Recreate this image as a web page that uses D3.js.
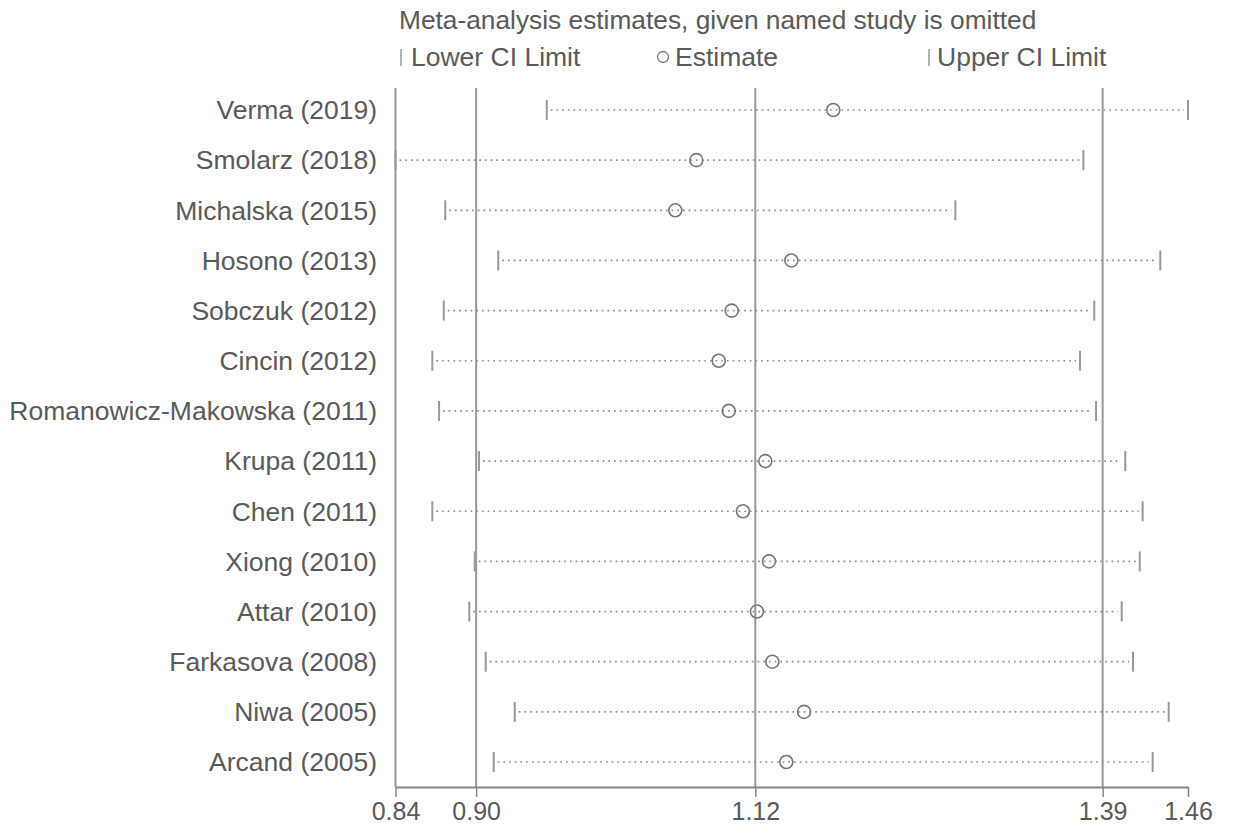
<!DOCTYPE html>
<html>
<head>
<meta charset="utf-8">
<script src="https://cdn.jsdelivr.net/npm/d3@7"></script>
<style>
  body { margin: 0; background: #fff; }
  svg text { font-family: "Liberation Sans", Arial, sans-serif; fill: #5a5a5a; }
</style>
</head>
<body>
<div id="chart"></div>
<script>
// studies, top to bottom
var studies = ["Verma (2019)", "Smolarz (2018)", "Michalska (2015)", "Hosono (2013)",
  "Sobczuk (2012)", "Cincin (2012)", "Romanowicz-Makowska (2011)", "Krupa (2011)",
  "Chen (2011)", "Xiong (2010)", "Attar (2010)", "Farkasova (2008)", "Niwa (2005)", "Arcand (2005)"];

// pooled estimate with the study left out, and its CI
var lowerCI  = [0.9556, 0.8365, 0.8757, 0.9174, 0.8745, 0.8655, 0.8708, 0.9022, 0.8655, 0.8989, 0.8946, 0.9075, 0.9304, 0.9138];
var estimate = [1.1812, 1.0734, 1.0568, 1.1482, 1.1012, 1.0910, 1.0989, 1.1277, 1.1101, 1.1306, 1.1211, 1.1332, 1.1582, 1.1442];
var upperCI  = [1.4605, 1.3781, 1.2773, 1.4387, 1.3867, 1.3755, 1.3881, 1.4111, 1.4248, 1.4225, 1.4083, 1.4172, 1.4453, 1.4327];

// axis ticks: min lower, overall lower, overall estimate, overall upper, max upper
var tickVals = [0.8365, 0.9, 1.1198, 1.3933, 1.4605];
var refLines = [0.8365, 0.9, 1.1198, 1.3933];

var svgWidth = 1237, svgHeight = 829;
var plotLeft = 395.5, plotRight = 1188, axisY = 787;

var svg = d3.select("#chart").append("svg")
  .attr("width", svgWidth)
  .attr("height", svgHeight);

var x = d3.scaleLinear()
  .domain([tickVals[0], tickVals[tickVals.length - 1]])
  .range([plotLeft, plotRight]);

var y = d3.scalePoint()
  .domain(studies)
  .range([110, 762]);

var rows = studies.map(function(s, i) {
  return {name: s, lo: lowerCI[i], est: estimate[i], hi: upperCI[i]};
});

// title + legend
svg.append("text").attr("x", 399).attr("y", 29)
  .style("font-size", "26.3px")
  .text("Meta-analysis estimates, given named study is omitted");

var legY = 66;
svg.append("line").attr("x1", 401).attr("x2", 401).attr("y1", legY - 17).attr("y2", legY)
  .attr("stroke", "#888").attr("stroke-width", 1.3);
svg.append("text").attr("x", 411).attr("y", legY).style("font-size", "26.5px").text("Lower CI Limit");
svg.append("circle").attr("cx", 663).attr("cy", legY - 9).attr("r", 5.5)
  .attr("fill", "none").attr("stroke", "#777").attr("stroke-width", 1.3);
svg.append("text").attr("x", 675).attr("y", legY).style("font-size", "26.5px").text("Estimate");
svg.append("line").attr("x1", 929).attr("x2", 929).attr("y1", legY - 17).attr("y2", legY)
  .attr("stroke", "#888").attr("stroke-width", 1.3);
svg.append("text").attr("x", 937).attr("y", legY).style("font-size", "26.5px").text("Upper CI Limit");

// reference lines
svg.selectAll(".ref").data(refLines).enter().append("line")
  .attr("class", "ref")
  .attr("x1", d => x(d)).attr("x2", d => x(d))
  .attr("y1", 88).attr("y2", axisY)
  .attr("stroke", "#999").attr("stroke-width", 2);

// dotted CI lines
svg.selectAll(".ci").data(rows).enter().append("line")
  .attr("class", "ci")
  .attr("x1", d => x(d.lo) + 4).attr("x2", d => x(d.hi) - 4)
  .attr("y1", d => y(d.name)).attr("y2", d => y(d.name))
  .attr("stroke", "#8f8f8f").attr("stroke-width", 1.7)
  .attr("stroke-dasharray", "1.7,4");

// caps
svg.selectAll(".lo").data(rows).enter().append("line")
  .attr("class", "lo")
  .attr("x1", d => x(d.lo)).attr("x2", d => x(d.lo))
  .attr("y1", d => y(d.name) - 10).attr("y2", d => y(d.name) + 10)
  .attr("stroke", "#999").attr("stroke-width", 2);
svg.selectAll(".hi").data(rows).enter().append("line")
  .attr("class", "hi")
  .attr("x1", d => x(d.hi)).attr("x2", d => x(d.hi))
  .attr("y1", d => y(d.name) - 10).attr("y2", d => y(d.name) + 10)
  .attr("stroke", "#999").attr("stroke-width", 2);

// estimates
svg.selectAll(".est").data(rows).enter().append("circle")
  .attr("class", "est")
  .attr("cx", d => x(d.est)).attr("cy", d => y(d.name))
  .attr("r", 6.5)
  .attr("fill", "none").attr("stroke", "#777").attr("stroke-width", 1.6);

// study labels
svg.selectAll(".lab").data(rows).enter().append("text")
  .attr("class", "lab")
  .attr("x", 377).attr("y", d => y(d.name))
  .attr("dy", "0.35em")
  .attr("text-anchor", "end")
  .style("font-size", "26.5px")
  .text(d => d.name);

// x axis
var xAxis = d3.axisBottom(x)
  .tickValues(tickVals)
  .tickFormat(d3.format(".2f"))
  .tickSize(10)
  .tickSizeOuter(0);

var gx = svg.append("g")
  .attr("transform", "translate(0," + axisY + ")")
  .call(xAxis);
gx.select(".domain").attr("stroke", "#888").attr("stroke-width", 2);
gx.selectAll(".tick line").attr("stroke", "#888").attr("stroke-width", 1.5);
gx.selectAll(".tick text")
  .attr("y", 15)
  .style("font-size", "25px")
  .attr("fill", "#5a5a5a")
  .style("font-family", "'Liberation Sans', Arial, sans-serif");
</script>
</body>
</html>
